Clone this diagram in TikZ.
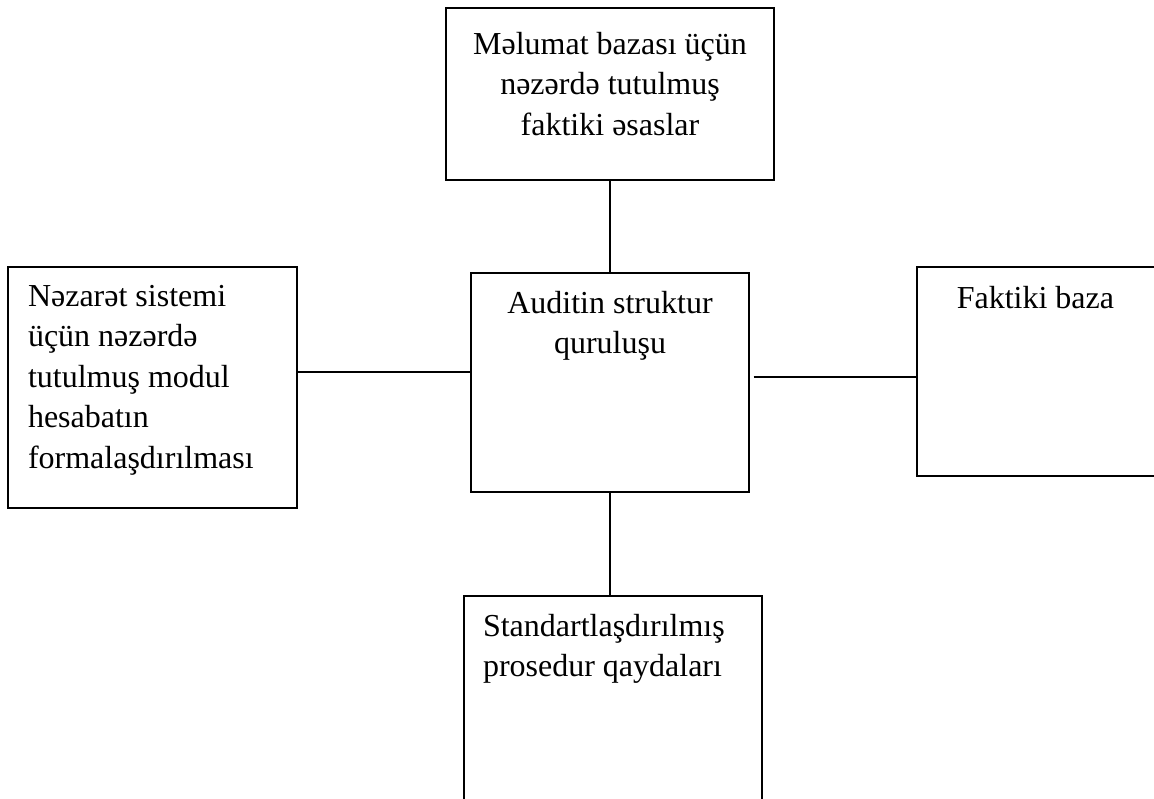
\documentclass[tikz,border=0pt]{standalone}
\usepackage{fontspec}
\setmainfont{Liberation Serif}

\tikzset{
    box/.style={draw=black, line width=1.2pt, inner sep=0pt},
    txt/.style={inner sep=0pt, font=\fontsize{32pt}{40.5pt}\selectfont},
}

\begin{document}
\begin{tikzpicture}[x=1pt, y=-1pt, line width=1.2pt]
    % Frame
    \useasboundingbox (0,0) rectangle (1154,799);
    \clip (0,0) rectangle (1154,799);

    % Boxes
    \node[box, minimum width=328pt, minimum height=172pt] (tbox) at (610,94) {};
    \node[box, minimum width=278pt, minimum height=219pt] (cbox) at (610,382.5) {};
    \node[box, minimum width=289pt, minimum height=241pt] (lbox) at (152.5,387.5) {};
    \node[box, minimum width=250pt, minimum height=209pt] (rbox) at (1042,371.5) {};
    \node[box, minimum width=298pt, minimum height=224pt] (bbox) at (613,708) {};

    % Texts
    \node[txt, align=center, anchor=north] (ttxt) at ([yshift=-24pt]tbox.north)
        {Məlumat bazası üçün\\nəzərdə tutulmuş\\faktiki əsaslar};
    \node[txt, align=center, anchor=north] (ctxt) at ([yshift=-18pt]cbox.north)
        {Auditin struktur\\quruluşu};
    \node[txt, align=left, anchor=north west] (ltxt) at ([xshift=20pt, yshift=-18pt]lbox.north west)
        {Nəzarət sistemi\\üçün nəzərdə\\tutulmuş modul\\hesabatın\\formalaşdırılması};
    \node[txt, anchor=north] (rtxt) at ([xshift=119pt, yshift=-19pt]rbox.north west)
        {Faktiki baza};
    \node[txt, align=left, anchor=north west] (btxt) at ([xshift=19pt, yshift=-18pt]bbox.north west)
        {Standartlaşdırılmış\\prosedur qaydaları};

    % Connectors
    \coordinate (rstart) at ([xshift=4pt]cbox.east);
    \draw (tbox.south) -- (cbox.north);
    \draw (lbox.east |- 0,372) -- (cbox.west |- 0,372);
    \draw (rstart |- 0,377) -- (rbox.west |- 0,377);
    \draw (cbox.south) -- (cbox.south |- bbox.north);
\end{tikzpicture}
\end{document}
